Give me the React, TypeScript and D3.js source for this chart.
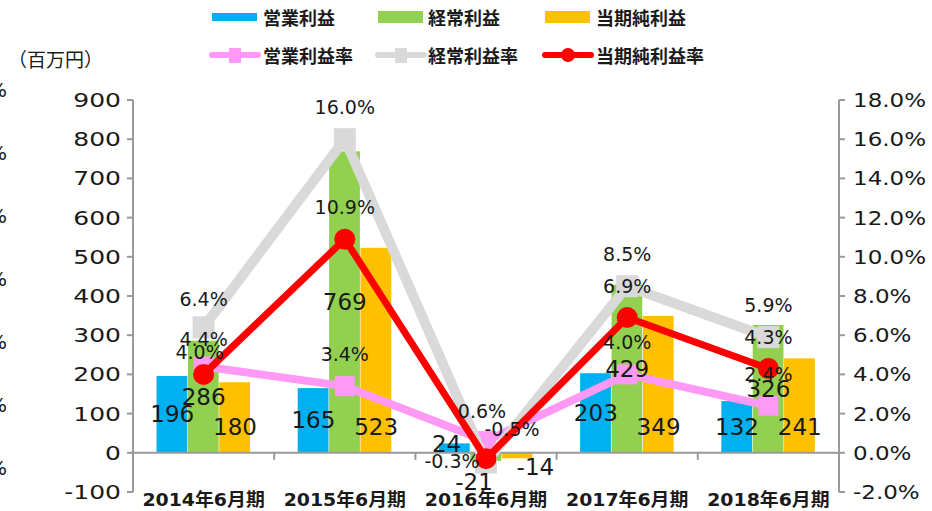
import React from "react";
import * as d3 from "d3";

const categories = ["2014年6月期", "2015年6月期", "2016年6月期", "2017年6月期", "2018年6月期"];
const operatingProfit = [196, 165, 24, 203, 132];
const ordinaryProfit = [286, 769, -21, 429, 326];
const netProfit = [180, 523, -14, 349, 241];
const operatingMargin = [4.4, 3.4, 0.6, 4.0, 2.4];
const ordinaryMargin = [6.4, 16.0, -0.5, 8.5, 5.9];
const netMargin = [4.0, 10.9, -0.3, 6.9, 4.3];
const leftTicks = d3.range(-100, 901, 100);
const rightTicks = d3.range(-2, 19, 2);
const barSeriesNames = ["営業利益", "経常利益", "当期純利益"];
const lineSeriesNames = ["営業利益率", "経常利益率", "当期純利益率"];
const unitLabel = "（百万円）";

const W = 932;
const H = 511;
const NUM_FONT = "'DejaVu Sans', sans-serif";
const CJK_FONT = "'DejaVu Sans', 'Noto Sans CJK JP', sans-serif";
const TEXT = "#1a1a1a";
const AXIS = "#9a9a9a";

const barColors = ["#00B0F0", "#92D050", "#FFC000"];
const lineColors = ["#FF99F5", "#D9D9D9", "#FF0000"];
const lineWidths = [8, 10, 7];

// label nudges (style only)
const barLabelNudge: Record<string, [number, number]> = {
  "0-2": [-8, -4],
  "1-2": [-12, 25],
  "2-2": [18, -12],
};
const rateLabelNudge: Record<string, [number, number]> = {
  "0-0": [0, -28],
  "1-0": [0, -28],
  "2-0": [-4, -22],
  "0-2": [-4, -30],
  "1-2": [26, -34],
  "2-2": [-34, 2],
};

const fmtPct = (v: number) => (v < 0 ? "-" : "") + Math.abs(v).toFixed(1) + "%";
const fmtNum = (v: number) => (v < 0 ? "-" : "") + Math.abs(v).toString();

export default function App() {
  const x0 = d3.scaleBand<string>().domain(categories).range([133, 839]).paddingInner(1 / 3).paddingOuter(1 / 6);
  const x1 = d3.scaleBand<number>().domain([0, 1, 2]).range([0, x0.bandwidth()]);
  const yL = d3.scaleLinear().domain([-100, 900]).range([492, 100]);
  const yR = d3.scaleLinear().domain([-2, 18]).range([492, 100]);
  const step = x0.step();
  const catCenter = (c: string) => (x0(c) as number) + x0.bandwidth() / 2;

  const bars = [operatingProfit, ordinaryProfit, netProfit];
  const rates = [operatingMargin, ordinaryMargin, netMargin];

  const lineGen = d3
    .line<number>()
    .x((_, i) => catCenter(categories[i]))
    .y((d) => yR(d));

  const edgeY = d3.scaleLinear().domain([0, 6]).range([90, 468]);

  const legendX = [212, 378, 545];
  const legendTextX = [263, 428, 596];

  return (
    <div style={{ position: "absolute", left: 0, top: 0 }}>
      <svg width={W} height={H} xmlns="http://www.w3.org/2000/svg" style={{ display: "block", background: "#fff" }}>
        <rect x={0} y={0} width={W} height={H} fill="#fff" />

        {/* partial glyphs at the left edge */}
        {d3.range(7).map((i) => (
          <text key={"e" + i} x={7} y={edgeY(i)} textAnchor="end" dominantBaseline="central" fontFamily={NUM_FONT} fontSize={20} fill={TEXT}>
            %
          </text>
        ))}

        {/* unit label */}
        <text x={8} y={58} dominantBaseline="central" fontFamily="'Noto Sans CJK JP', sans-serif" fontSize={19} fill={TEXT}>
          {unitLabel}
        </text>

        {/* legend */}
        {barSeriesNames.map((n, i) => (
          <g key={"lb" + i}>
            <rect x={legendX[i]} y={i === 0 ? 13 : 11} width={45} height={i === 0 ? 8 : 12} fill={barColors[i]} />
            <text x={legendTextX[i]} y={17} dominantBaseline="central" fontFamily="'Noto Sans CJK JP', sans-serif" fontWeight={700} fontSize={18} fill={TEXT}>
              {n}
            </text>
          </g>
        ))}
        {lineSeriesNames.map((n, i) => (
          <g key={"ll" + i}>
            <line x1={legendX[i]} x2={legendX[i] + 46} y1={55} y2={55} stroke={lineColors[i]} strokeWidth={6} strokeLinecap="round" />
            {i < 2 ? (
              <rect x={legendX[i] + 17} y={48} width={12} height={15} fill={lineColors[i]} />
            ) : (
              <circle cx={legendX[i] + 23} cy={55} r={7} fill={lineColors[i]} />
            )}
            <text x={legendTextX[i]} y={55} dominantBaseline="central" fontFamily="'Noto Sans CJK JP', sans-serif" fontWeight={700} fontSize={18} fill={TEXT}>
              {n}
            </text>
          </g>
        ))}

        {/* bars */}
        {categories.map((c, ci) => (
          <g key={"g" + c}>
            {bars.map((s, si) => {
              const v = s[ci];
              const bx = (x0(c) as number) + (x1(si) as number);
              return (
                <rect
                  key={si}
                  x={bx}
                  y={Math.min(yL(v), yL(0))}
                  width={x1.bandwidth() - 0.6}
                  height={Math.abs(yL(v) - yL(0))}
                  fill={barColors[si]}
                />
              );
            })}
          </g>
        ))}

        {/* axes */}
        <line x1={133} x2={133} y1={100} y2={492} stroke={AXIS} strokeWidth={2} />
        {leftTicks.map((t) => (
          <g key={"lt" + t}>
            <line x1={127} x2={133} y1={yL(t)} y2={yL(t)} stroke={AXIS} strokeWidth={2} />
            <text transform={`translate(121,${yL(t)}) scale(1.25,1)`} textAnchor="end" dominantBaseline="central" fontFamily={NUM_FONT} fontSize={20} fill={TEXT}>
              {fmtNum(t)}
            </text>
          </g>
        ))}
        <line x1={839} x2={839} y1={100} y2={492} stroke={AXIS} strokeWidth={2} />
        {rightTicks.map((t) => (
          <g key={"rt" + t}>
            <line x1={839} x2={845} y1={yR(t)} y2={yR(t)} stroke={AXIS} strokeWidth={2} />
            <text transform={`translate(853,${yR(t)}) scale(1.15,1)`} textAnchor="start" dominantBaseline="central" fontFamily={NUM_FONT} fontSize={20} fill={TEXT}>
              {fmtPct(t)}
            </text>
          </g>
        ))}
        <line x1={133} x2={839} y1={yL(0)} y2={yL(0)} stroke={AXIS} strokeWidth={2} />
        {categories.slice(1).map((c) => (
          <line key={"ct" + c} x1={(x0(c) as number) - (step - x0.bandwidth()) / 2} x2={(x0(c) as number) - (step - x0.bandwidth()) / 2} y1={yL(0)} y2={yL(0) + 7} stroke={AXIS} strokeWidth={2} />
        ))}
        {categories.map((c) => (
          <text key={"xl" + c} transform={`translate(${catCenter(c)},500) scale(1.05,1)`} textAnchor="middle" dominantBaseline="central" fontFamily={CJK_FONT} fontWeight={700} fontSize={18} fill={TEXT}>
            {c}
          </text>
        ))}

        {/* lines */}
        {rates.map((s, si) => (
          <g key={"ln" + si}>
            <path d={lineGen(s) as string} fill="none" stroke={lineColors[si]} strokeWidth={lineWidths[si]} strokeLinejoin="round" />
            {s.map((v, i) =>
              si < 2 ? (
                <rect key={i} x={catCenter(categories[i]) - (si === 0 ? 10 : 11)} y={yR(v) - (si === 0 ? 10 : 11)} width={si === 0 ? 20 : 22} height={si === 0 ? 20 : 22} fill={lineColors[si]} />
              ) : (
                <circle key={i} cx={catCenter(categories[i])} cy={yR(v)} r={10.5} fill={lineColors[si]} />
              )
            )}
          </g>
        ))}

        {/* bar value labels */}
        {bars.map((s, si) =>
          s.map((v, i) => {
            const c = categories[i];
            const cx = (x0(c) as number) + (x1(si) as number) + x1.bandwidth() / 2;
            const cy = si === 2 ? (v >= 0 ? yL(0) - 26 : yL(0) + 26) : (yL(v) + yL(0)) / 2;
            const nudge = barLabelNudge[`${si}-${i}`] || [0, 0];
            return (
              <text key={`bl${si}-${i}`} x={cx + nudge[0]} y={cy + nudge[1]} textAnchor="middle" dominantBaseline="central" fontFamily={NUM_FONT} fontSize={23} fill={TEXT}>
                {fmtNum(v)}
              </text>
            );
          })
        )}

        {/* rate labels */}
        {rates.map((s, si) =>
          s.map((v, i) => {
            const nudge = rateLabelNudge[`${si}-${i}`] || [0, -32];
            return (
              <text key={`rl${si}-${i}`} x={catCenter(categories[i]) + nudge[0]} y={yR(v) + nudge[1]} textAnchor="middle" dominantBaseline="central" fontFamily={NUM_FONT} fontSize={19} fill={TEXT}>
                {fmtPct(v)}
              </text>
            );
          })
        )}
      </svg>
    </div>
  );
}
